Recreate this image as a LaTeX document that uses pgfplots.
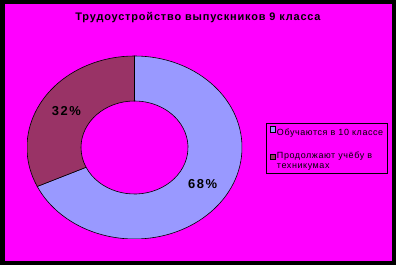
\documentclass[border=0pt]{standalone}
\usepackage{pgfplots}
\pgfplotsset{compat=1.18}
\usepackage{pgfplotstable}
\usepackage{fontspec}
\setmainfont{Liberation Sans}
\newfontfamily\titlefont[LetterSpace=7.5]{Liberation Sans}
\newfontfamily\legendfont[LetterSpace=6.5]{Liberation Sans}
\newfontfamily\labelfont[LetterSpace=12]{Liberation Sans}

\definecolor{pinkbg}{RGB}{255,0,255}
\definecolor{slicebl}{RGB}{153,153,255}
\definecolor{slicemr}{RGB}{153,51,102}

% shares of the graduates, in per cent
\pgfplotstableread{
share
68
32
}\shares

\pgfplotstablegetelem{0}{share}\of\shares \xdef\shareA{\pgfplotsretval}
\pgfplotstablegetelem{1}{share}\of\shares \xdef\shareB{\pgfplotsretval}

% slices run clockwise from 12 o'clock
\pgfmathsetmacro\angA{90-3.6*\shareA}
\pgfmathsetmacro\angB{\angA-3.6*\shareB}
\pgfmathsetmacro\midA{(90+\angA)/2}
\pgfmathsetmacro\midB{(\angA+\angB)/2}

% outer and inner radii of the ring
\def\Rx{107.5bp}\def\Ry{91.5bp}
\def\rx{53.5bp}\def\ry{46.5bp}
\def\lx{80.6bp}\def\ly{68.6bp}

\newcommand\ringsector[3]{%
  \filldraw[fill=#3, draw=black, line width=0.6bp]
    ([shift={(#1:{\Rx} and {\Ry})}]c) arc[start angle=#1, end angle=#2, x radius=\Rx, y radius=\Ry]
    -- ([shift={(#2:{\rx} and {\ry})}]c) arc[start angle=#2, end angle=#1, x radius=\rx, y radius=\ry]
    -- cycle;}

\begin{document}
\begin{tikzpicture}[x=1bp,y=1bp]
\fill[black] (0,0) rectangle (396,265);
\fill[pinkbg] (5,4) rectangle (392,261);
\node[font=\titlefont\bfseries\fontsize{11}{13}\selectfont] at (198,247) {Трудоустройство выпускников 9 класса};

\begin{axis}[
  hide axis, scale only axis,
  width=215bp, height=183bp,
  xmin=-1, xmax=1, ymin=-1, ymax=1,
  anchor=center, at={(134.5bp,117.5bp)},
  legend image code/.code={\draw[#1, line width=0.6bp] (0bp,0.5bp) rectangle (5.5bp,6bp);},
  legend style={at={(1.1116,0.634)}, anchor=north west, draw=black, fill=none,
    line width=0.8bp, font=\legendfont\fontsize{9}{10}\selectfont,
    nodes={inner sep=1bp}, column sep=0bp,
    row sep=12.8bp, inner xsep=3.5bp, inner ysep=3bp},
  legend cell align=left,
]
\coordinate (c) at (axis cs:0,0);
\ringsector{90}{\angA}{slicebl}
\ringsector{\angA}{\angB}{slicemr}
\node[font=\labelfont\bfseries\fontsize{13}{15}\selectfont] at ([shift={(\midA:{\lx} and {\ly})}]c) {\shareA\%};
\node[font=\labelfont\bfseries\fontsize{13}{15}\selectfont] at ([shift={(\midB:{\lx} and {\ly})}]c) {\shareB\%};
\addlegendimage{fill=slicebl, draw=black}
\addlegendentry{Обучаются в 10 классе}
\addlegendimage{fill=slicemr, draw=black}
\addlegendentry[text depth=10.5bp]{\begin{tabular}[t]{@{}l@{}}Продолжают учёбу в\\техникумах\end{tabular}}
\end{axis}
\end{tikzpicture}
\end{document}
